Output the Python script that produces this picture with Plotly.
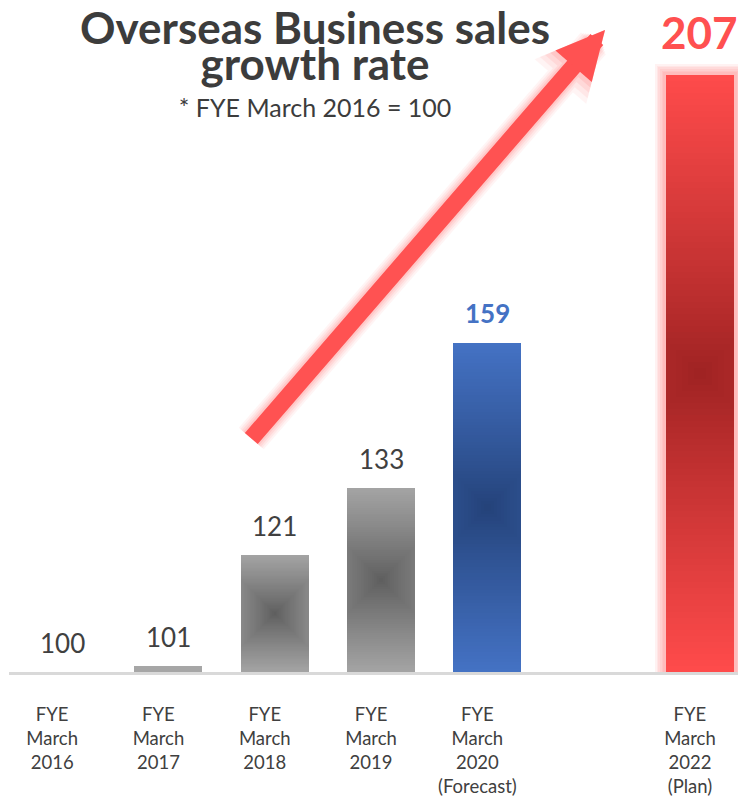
import plotly.graph_objects as go

# ---------------- data ----------------
categories = [
    "FYE<br>March<br>2016",
    "FYE<br>March<br>2017",
    "FYE<br>March<br>2018",
    "FYE<br>March<br>2019",
    "FYE<br>March<br>2020<br>(Forecast)",
    " ",
    "FYE<br>March<br>2022<br>(Plan)",
]
values = [100, 101, 121, 133, 159, None, 207]
base_value = 100

title_line1 = "Overseas Business sales"
title_line2 = "growth rate"
subtitle = "* FYE March 2016 = 100"

# ---------------- styles ----------------
edge_colors = ["#a6a6a6", "#a6a6a6", "#a4a4a4", "#a4a4a4", "#4472c4", None, "#ff4b4b"]
center_colors = ["#a6a6a6", "#a6a6a6", "#5e5e5e", "#5e5e5e", "#244279", None, "#9e2222"]
glow_flags = [False, False, False, False, False, None, True]
label_colors = ["#404040", "#404040", "#404040", "#404040", "#4472c4", None, "#ff5050"]
label_sizes = [26, 26, 26, 26, 26, None, 44]
label_bold = [False, False, False, False, True, None, True]
label_shift = [29, 29, 29, 29, 30, None, 43]

FONT = "Lato"
BAR_W = 0.64
W, H = 738, 801
M_L, M_R, M_T, M_B = 9, 0, 0, 129
PX_PER_CAT = 106.3
PLOT_W = W - M_L - M_R
PLOT_H = H - M_T - M_B
X_RANGE = [-0.5, -0.5 + PLOT_W / PX_PER_CAT]
PX_PER_UNIT = 5.58
Y_RANGE = [base_value, base_value + PLOT_H / PX_PER_UNIT]


def px(xs):
    """page x (pixels) -> paper x"""
    return (xs - M_L) / PLOT_W


def py(ys):
    """page y (pixels) -> paper y"""
    return (PLOT_H - (ys - M_T)) / PLOT_H


def hex2rgb(h):
    h = h.lstrip("#")
    return tuple(int(h[i:i + 2], 16) for i in (0, 2, 4))


def mix(c_center, c_edge, d):
    a, b = hex2rgb(c_center), hex2rgb(c_edge)
    return "rgb(%d,%d,%d)" % tuple(round(a[k] + (b[k] - a[k]) * d) for k in range(3))


fig = go.Figure()

# soft glow behind the plan bar
for k in range(6):
    extra_w = 0.20 - k * 0.03
    extra_h = 1.9 - k * 0.28
    gy, gb, gw = [], [], []
    for v, gf in zip(values, glow_flags):
        if v is None or not gf:
            gy.append(None); gb.append(None); gw.append(BAR_W)
        else:
            gy.append(v - base_value + extra_h)
            gb.append(base_value)
            gw.append(BAR_W + extra_w)
    fig.add_trace(go.Bar(x=categories, y=gy, base=gb, width=gw,
                         marker=dict(color="rgba(255,80,80,0.075)", line=dict(width=0)),
                         hoverinfo="skip", showlegend=False))

# radial-ish gradient bars built from nested layers
N = 50
half_w_px = BAR_W * PX_PER_CAT / 2
for i in range(N):
    f = 1 - i / N
    f_next = 1 - (i + 1) / N
    d = (f + f_next) / 2
    ys, bs, ws, cs = [], [], [], []
    for v, ec, cc in zip(values, edge_colors, center_colors):
        if v is None:
            ys.append(None); bs.append(None); ws.append(BAR_W); cs.append("white")
            continue
        h = v - base_value
        half_h_px = h * PX_PER_UNIT / 2
        g = 1.0 if half_h_px < half_w_px else min(1.0, f * half_h_px / half_w_px)
        ys.append(h * f)
        bs.append(base_value + h * (1 - f) / 2)
        ws.append(BAR_W * g)
        cs.append(mix(cc, ec, d ** 0.9))
    fig.add_trace(go.Bar(x=categories, y=ys, base=bs, width=ws,
                         marker=dict(color=cs, line=dict(width=0)),
                         hoverinfo="skip", showlegend=False))

# value labels
for cat, v, col, sz, bold, sh in zip(categories, values, label_colors, label_sizes, label_bold, label_shift):
    if v is None:
        continue
    txt = "<b>%d</b>" % v if bold else "%d" % v
    fig.add_annotation(x=cat, y=v, xref="x", yref="y", text=txt, showarrow=False,
                       yshift=sh, yanchor="middle", xanchor="center",
                       font=dict(family=FONT, size=sz, color=col))

# big growth arrow (decoration) with soft glow
MAIN_W, MAIN_S = 17, 0.565
head = MAIN_W * MAIN_S
arrow_layers = [(33, "rgba(255,80,80,0.06)"), (29, "rgba(255,80,80,0.07)"),
                (25, "rgba(255,80,80,0.09)"), (21, "rgba(255,80,80,0.12)"),
                (MAIN_W, "#ff5252")]
for aw, col in arrow_layers:
    asz = (head + (aw - MAIN_W) / 4.0) / aw
    fig.add_annotation(x=px(605), y=py(30), xref="paper", yref="paper",
                       ax=-355, ay=410, axref="pixel", ayref="pixel",
                       text="", showarrow=True, arrowhead=2, arrowsize=asz,
                       arrowwidth=aw, arrowcolor=col)

# title block: one text box, tight line spacing as in the reference
title_html = (
    "<b><span style='font-size:44px'>%s</span></b><br>"
    "<b><span style='font-size:44px'>%s</span></b><br>"
    "<span style='font-size:25px'>%s</span>" % (title_line1, title_line2, subtitle)
)
fig.add_annotation(x=px(315), y=py(0), xref="paper", yref="paper",
                   text=title_html, showarrow=False, xanchor="center", yanchor="top",
                   align="center", borderpad=0,
                   font=dict(family=FONT, size=28, color="#3c3c3c"))

fig.update_layout(
    width=W, height=H,
    margin=dict(l=M_L, r=M_R, t=M_T, b=M_B, pad=0, autoexpand=False),
    paper_bgcolor="white", plot_bgcolor="white",
    barmode="overlay", bargap=0,
    showlegend=False,
    xaxis=dict(type="category", categoryorder="array", categoryarray=categories,
               range=X_RANGE, showgrid=False, zeroline=False, automargin=False,
               showline=True, linecolor="#d9d9d9", linewidth=3,
               ticks="", ticklabelstandoff=24, ticklabelshift=-10,
               tickfont=dict(family=FONT, size=18.5, color="#404040"), fixedrange=True),
    yaxis=dict(range=Y_RANGE, visible=False, fixedrange=True, automargin=False),
)

fig.write_html("out.html", config={"displayModeBar": False},
               post_script="document.body.style.margin='0px';document.body.style.overflow='hidden';")
